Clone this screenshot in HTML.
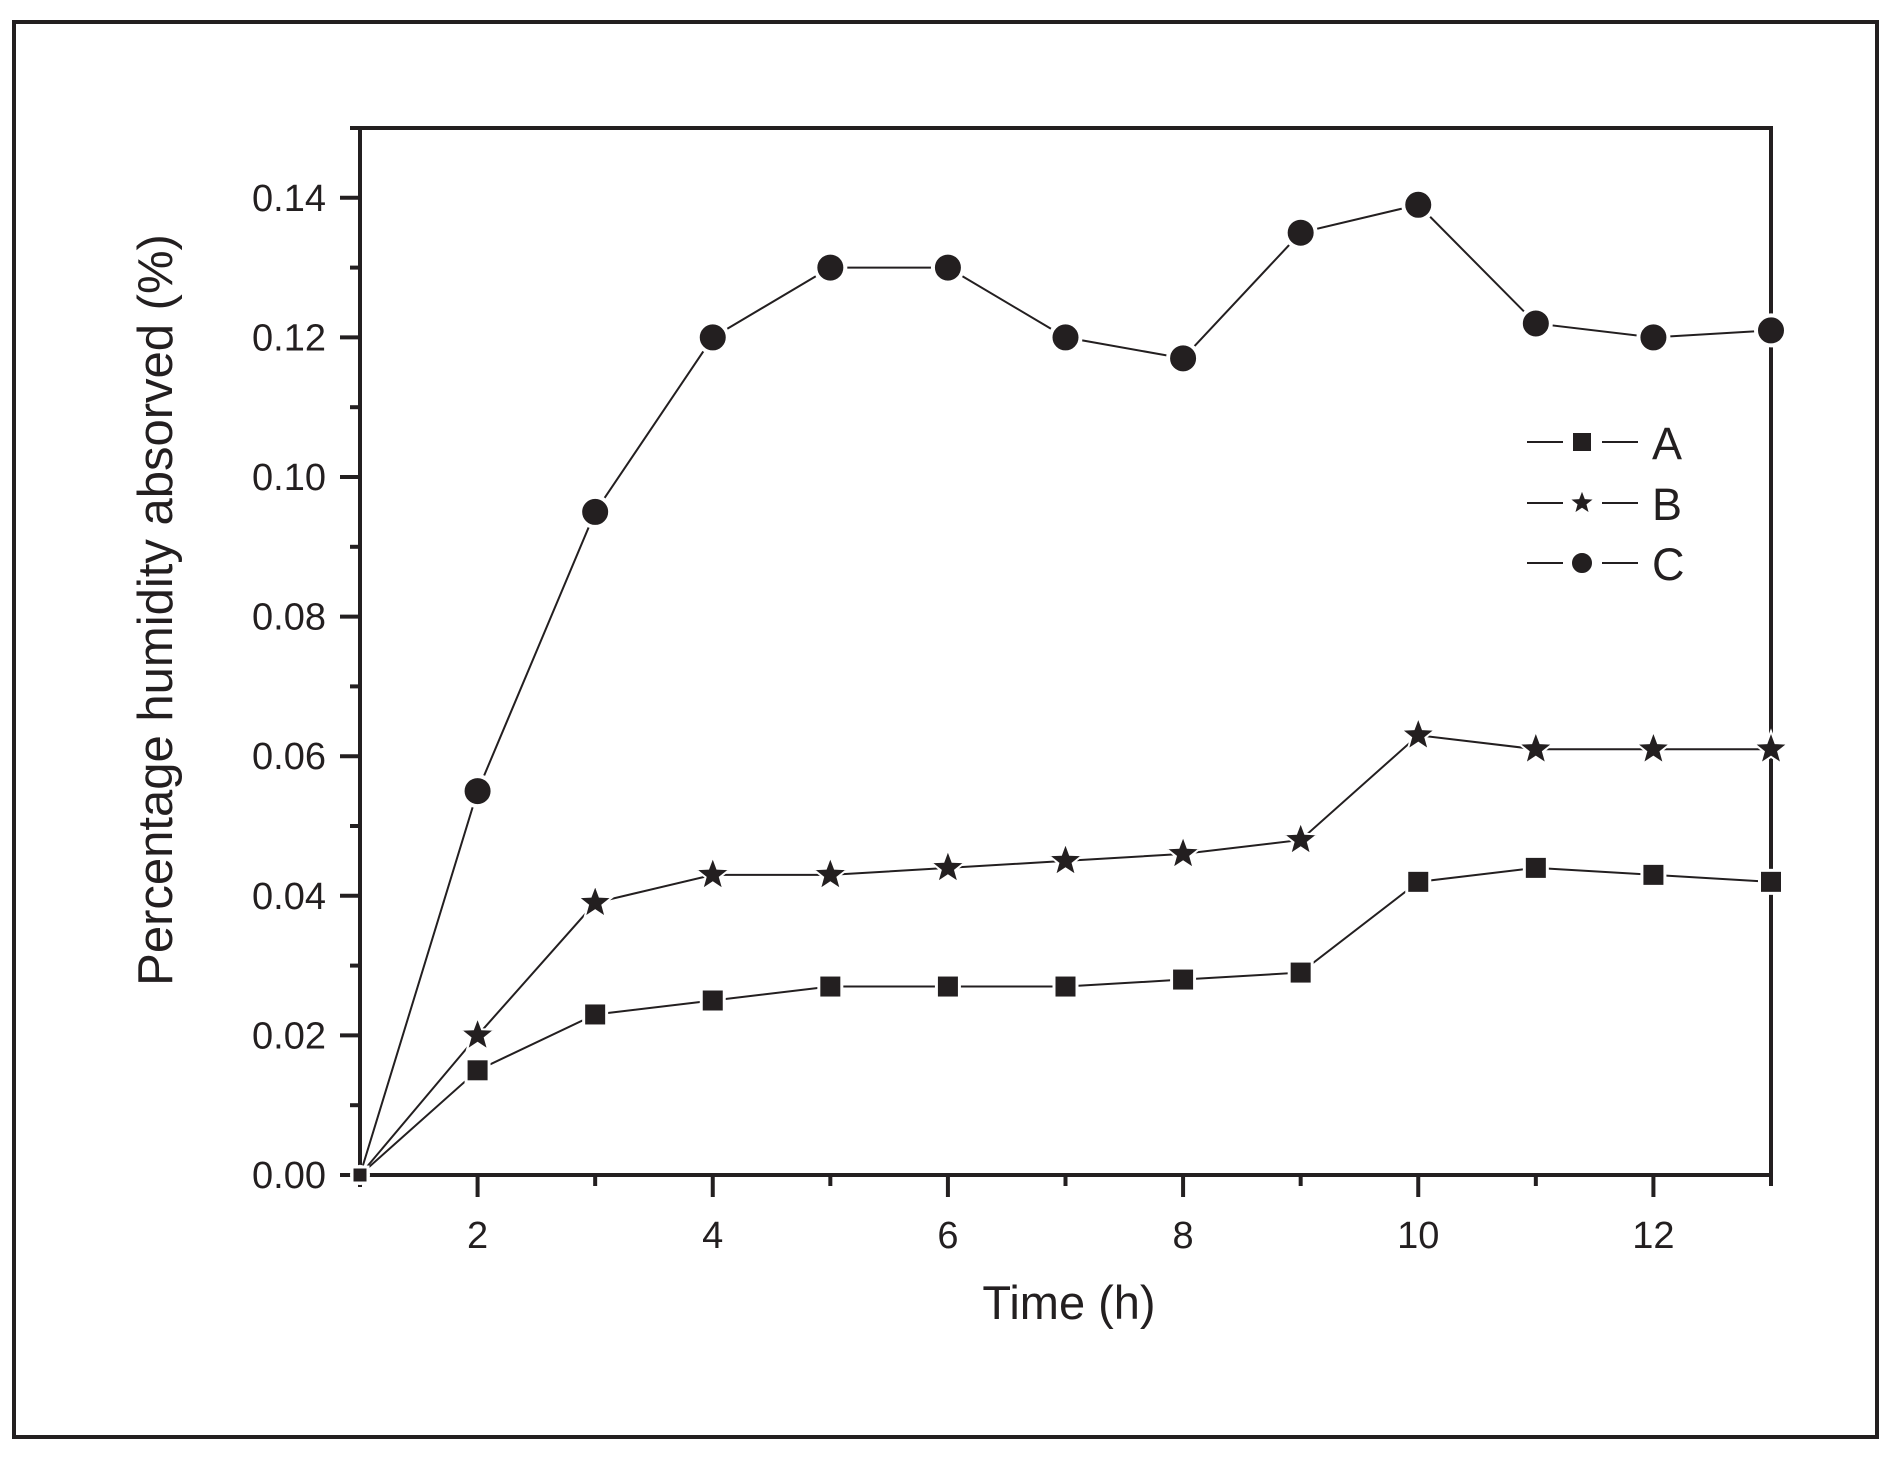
<!DOCTYPE html>
<html><head><meta charset="utf-8">
<style>
html,body{margin:0;padding:0;background:#fff;}
svg{display:block;}
text{font-family:"Liberation Sans",sans-serif;fill:#231f20;}
</style></head>
<body>
<svg id="chart" width="1896" height="1457" viewBox="0 0 1896 1457" xmlns="http://www.w3.org/2000/svg">
<rect x="14" y="22" width="1863" height="1415" fill="none" stroke="#231f20" stroke-width="4"/>
<g id="plot"></g>
</svg>
<script>
const hours = [1,2,3,4,5,6,7,8,9,10,11,12,13];
const seriesA = [0,0.015,0.023,0.025,0.027,0.027,0.027,0.028,0.029,0.042,0.044,0.043,0.042];
const seriesB = [0,0.020,0.039,0.043,0.043,0.044,0.045,0.046,0.048,0.063,0.061,0.061,0.061];
const seriesC = [0,0.055,0.095,0.120,0.130,0.130,0.120,0.117,0.135,0.139,0.122,0.120,0.121];
const xTickLabels = [2,4,6,8,10,12];
const yTickLabels = ["0.00","0.02","0.04","0.06","0.08","0.10","0.12","0.14"];

const NS="http://www.w3.org/2000/svg";
const g=document.getElementById('plot');
const X0=360,X1=1771,Y0=1175,Y1=128;
const xMin=1,xMax=13,yMin=0,yMax=0.15;
const sx=v=>X0+(v-xMin)/(xMax-xMin)*(X1-X0);
const sy=v=>Y0-(v-yMin)/(yMax-yMin)*(Y0-Y1);
const C="#231f20";
function mk(tag,attrs,parent){const e=document.createElementNS(NS,tag);for(const k in attrs)e.setAttribute(k,attrs[k]);(parent||g).appendChild(e);return e;}

let ax=mk('path',{d:`M${X0-10},${Y1} H${X1} V${Y0} H${X0-10} M${X0},${Y1} V${Y0+12}`,fill:'none',stroke:C,'stroke-width':4});



for(let h=xMin;h<=xMax;h++){
  const major=h%2===0;
  const t=mk('line',{x1:sx(h),x2:sx(h),y1:Y0,y2:Y0+(major?22:11),stroke:C,'stroke-width':4});
  
  
}
xTickLabels.forEach(v=>{
  const t=mk('text',{x:sx(v),y:Y0+73,'font-size':38,'text-anchor':'middle'});
  t.textContent=v;
  
  
});
for(let i=0;i<=15;i++){
  const v=i*0.01, major=i%2===0;
  const t=mk('line',{x1:X0-(major?20:10),x2:X0,y1:sy(v),y2:sy(v),stroke:C,'stroke-width':4});
  
  
}
yTickLabels.forEach(s=>{
  const v=parseFloat(s);
  const t=mk('text',{x:0,y:0,'font-size':38,'text-anchor':'end',transform:`translate(${X0-34},${sy(v)+13})`});
  t.textContent=s;
  
  
});
let xt=mk('text',{x:1069,y:1319,'font-size':47,'text-anchor':'middle'});
xt.textContent='Time (h)';


let yt=mk('text',{x:0,y:0,'font-size':49,'text-anchor':'middle',transform:'translate(172,610) rotate(-90)'});
yt.textContent='Percentage humidity absorved (%)';



function starPath(cx,cy,R){
  const r=R*0.42;let d='';
  for(let i=0;i<10;i++){const a=-Math.PI/2+i*Math.PI/5;const rr=i%2?r:R;d+=(i?'L':'M')+(cx+rr*Math.cos(a)).toFixed(1)+','+(cy+rr*Math.sin(a)).toFixed(1);}
  return d+'Z';
}
function marker(type,cx,cy,size,name){
  let m;
  if(type==='sq') m=mk('rect',{x:cx-size/2,y:cy-size/2,width:size,height:size,fill:C,stroke:'#fff','stroke-width':3});
  else if(type==='circ') m=mk('circle',{cx,cy,r:size/2,fill:C,stroke:'#fff','stroke-width':4});
  else m=mk('path',{d:starPath(cx,cy,size/2),fill:C,stroke:'#fff','stroke-width':2});
  
  
}
function series(vals,type,size,name){
  const pts=vals.map((v,i)=>[sx(hours[i]),sy(v)]);
  const l=mk('polyline',{points:pts.map(p=>p.join(',')).join(' '),fill:'none',stroke:C,'stroke-width':2});
  
  
  pts.forEach((p,i)=>marker(type,p[0],p[1],i===0?Math.min(size,16):size,name+'-point'));
}
series(seriesC,'circ',30,'series-c');
series(seriesB,'star',36,'series-b');
series(seriesA,'sq',23,'series-a');

const legend=[['A','sq',21,442],['B','star',28,503],['C','circ',24,563]];
legend.forEach(([lab,type,size,y])=>{
  const l=mk('path',{d:`M1527,${y} H1563 M1602,${y} H1638`,stroke:C,'stroke-width':2});
  
  
  marker(type,1582,y,size,'legend-marker');
  const t=mk('text',{x:1652,y:y+17,'font-size':45});
  t.textContent=lab;
  
  
});
</script>
</body></html>
